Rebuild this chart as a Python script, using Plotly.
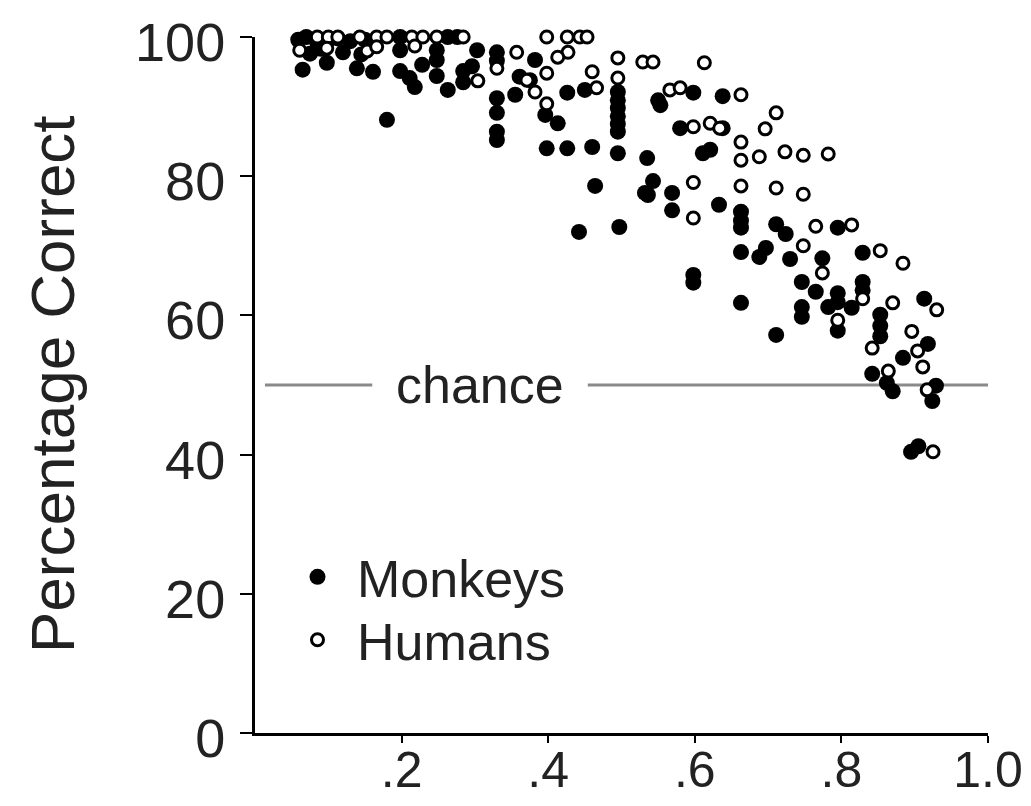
import plotly.graph_objects as go

# Monkeys (filled circles)
monkey_x = [0.059, 0.07, 0.085, 0.10, 0.113, 0.13, 0.15, 0.075, 0.09, 0.12, 0.145, 0.065, 0.098, 0.139, 0.161,
            0.18, 0.198, 0.198, 0.198, 0.211, 0.218, 0.228, 0.248, 0.248, 0.248, 0.263, 0.276, 0.263, 0.284, 0.284,
            0.296, 0.303, 0.33, 0.33, 0.33, 0.33, 0.33, 0.33, 0.361, 0.355, 0.375, 0.382, 0.396, 0.413, 0.398,
            0.426, 0.426, 0.45, 0.46, 0.442, 0.464, 0.495, 0.495, 0.495, 0.495, 0.495, 0.495, 0.495, 0.497, 0.535,
            0.532, 0.536, 0.543, 0.55, 0.553, 0.569, 0.569, 0.58, 0.598, 0.598, 0.598, 0.611, 0.621, 0.633, 0.638,
            0.638, 0.663, 0.663, 0.663, 0.663, 0.663, 0.688, 0.697, 0.711, 0.724, 0.711, 0.730, 0.746, 0.746, 0.746,
            0.765, 0.774, 0.782, 0.795, 0.795, 0.795, 0.795, 0.814, 0.829, 0.829, 0.829, 0.853, 0.853, 0.853, 0.842,
            0.862, 0.870, 0.884, 0.913, 0.918, 0.929, 0.924, 0.895, 0.905]
monkey_y = [99.6, 100, 99.2, 99.6, 99.8, 99.4, 99.6, 97.6, 98.3, 97.8, 97.5, 95.3, 96.3, 95.5, 95.0,
            88.1, 100, 98.1, 95.1, 94.1, 92.8, 96.0, 98.1, 96.7, 94.4, 100, 100, 92.4, 95.1, 93.5,
            95.8, 98.1, 97.8, 96.6, 91.2, 89.1, 86.4, 85.2, 94.3, 91.7, 93.8, 96.7, 88.8, 87.6, 84.0,
            92.0, 84.0, 92.4, 84.2, 72.0, 78.6, 92.1, 90.9, 89.8, 88.6, 87.5, 86.4, 83.3, 72.7, 82.6,
            77.6, 77.3, 79.3, 90.9, 90.2, 77.6, 75.1, 86.9, 92.0, 65.8, 64.7, 83.3, 83.8, 75.9, 91.5,
            86.9, 74.9, 73.6, 72.6, 69.1, 61.8, 68.4, 69.7, 73.1, 71.7, 57.2, 68.1, 64.8, 61.2, 59.8,
            63.4, 68.2, 61.2, 72.6, 63.2, 61.9, 57.8, 61.1, 69.0, 64.8, 63.6, 60.1, 58.5, 57.0, 51.6,
            50.3, 49.1, 53.9, 62.4, 55.9, 49.9, 47.7, 40.4, 41.2]

# Humans (open circles)
human_x = [0.085, 0.100, 0.113, 0.143, 0.166, 0.18, 0.214, 0.229, 0.248, 0.284, 0.398, 0.426, 0.443, 0.453,
           0.061, 0.098, 0.153, 0.166, 0.218, 0.304, 0.33, 0.357, 0.427, 0.413, 0.398, 0.371, 0.382, 0.398,
           0.466, 0.46, 0.495, 0.495, 0.529, 0.543, 0.613, 0.566, 0.58, 0.598, 0.621, 0.634, 0.598, 0.598,
           0.663, 0.711, 0.696, 0.663, 0.663, 0.688, 0.723, 0.748, 0.782, 0.663, 0.711, 0.748, 0.765, 0.814,
           0.748, 0.774, 0.853, 0.884, 0.829, 0.795, 0.870, 0.930, 0.896, 0.842, 0.904, 0.911, 0.864, 0.917,
           0.925]
human_y = [100, 100, 100, 100, 100, 100, 100, 100, 100, 100, 100, 100, 100, 100,
           98.1, 98.4, 98.0, 98.6, 98.7, 93.7, 95.5, 97.8, 97.8, 97.1, 94.8, 93.8, 92.1, 90.4,
           92.7, 95.0, 97.0, 94.1, 96.4, 96.4, 96.3, 92.4, 92.7, 87.1, 87.6, 86.9, 79.1, 74.0,
           91.7, 89.1, 86.8, 84.9, 82.3, 82.8, 83.5, 83.0, 83.2, 78.6, 78.3, 77.4, 72.8, 73.0,
           70.0, 66.1, 69.3, 67.5, 62.4, 59.3, 61.8, 60.8, 57.7, 55.3, 54.9, 52.6, 52.0, 49.3,
           40.4]

x_tickvals = [0.2, 0.4, 0.6, 0.8, 1.0]
x_ticktext = [".2", ".4", ".6", ".8", "1.0"]
y_tickvals = [0, 20, 40, 60, 80, 100]
chance_level = 50

FONT = "Liberation Sans, Arial, Helvetica, sans-serif"

# page body adds an 8px offset; figure-coordinates below account for it
OFF = 8
W, H = 1023, 798
L, T = 255 - OFF, 37 - OFF
plot_w, plot_h = 733, 696
R = W - L - plot_w
B = H - T - plot_h


def px_to_paper_x(px):
    return (px - OFF - L) / plot_w


def px_to_paper_y(py):
    return (T + plot_h - (py - OFF)) / plot_h


fig = go.Figure()
fig.add_trace(go.Scatter(
    x=monkey_x, y=monkey_y, mode="markers", name="Monkeys", legend="legend",
    marker=dict(symbol="circle", size=16, color="black", line=dict(width=0)),
    cliponaxis=False))
fig.add_trace(go.Scatter(
    x=human_x, y=human_y, mode="markers", name="Humans", legend="legend2",
    marker=dict(symbol="circle", size=12, color="white", line=dict(width=3, color="black")),
    cliponaxis=False))

# chance line (two segments with the label between)
for x0, x1 in [(0.0136, 0.16), (0.454, 1.016)]:
    fig.add_shape(type="line", x0=x0, x1=x1, y0=chance_level, y1=chance_level,
                  xref="x", yref="y", line=dict(color="#8a8a8a", width=3), layer="below")
fig.add_annotation(x=0.307, y=chance_level, text="chance", showarrow=False,
                   xanchor="center", yanchor="middle",
                   font=dict(family=FONT, size=52, color="#222"), xref="x", yref="y")

fig.add_annotation(x=px_to_paper_x(52), y=px_to_paper_y(384), xref="paper", yref="paper",
                   xanchor="center", yanchor="middle",
                   text="Percentage Correct", textangle=-90, showarrow=False,
                   font=dict(family=FONT, size=62, color="#222"))

leg_common = dict(xanchor="left", yanchor="middle",
                  font=dict(family=FONT, size=52, color="#222"),
                  bgcolor="rgba(0,0,0,0)", itemsizing="trace", itemwidth=69)

fig.update_layout(
    width=W, height=H,
    margin=dict(l=L, r=R, t=T, b=B, autoexpand=False),
    paper_bgcolor="white", plot_bgcolor="white",
    font=dict(family=FONT, color="#222"),
    showlegend=True,
    legend=dict(x=px_to_paper_x(278), y=px_to_paper_y(577), **leg_common),
    legend2=dict(x=px_to_paper_x(278), y=px_to_paper_y(640), **leg_common),
    xaxis=dict(range=[0, 1.0], showgrid=False, zeroline=False, automargin=False,
               showline=True, linecolor="black", linewidth=3,
               ticks="outside", ticklen=7, tickwidth=1.5, tickcolor="black",
               tickvals=x_tickvals, ticktext=x_ticktext, ticklabelstandoff=-16,
               ticklabeloverflow="allow",
               tickfont=dict(family=FONT, size=50, color="#222")),
    yaxis=dict(range=[0, 100], showgrid=False, zeroline=False, automargin=False,
               showline=True, linecolor="black", linewidth=3,
               ticks="outside", ticklen=12, tickwidth=1.5, tickcolor="black",
               tickvals=y_tickvals, ticklabelstandoff=4, ticklabelshift=5,
               ticklabeloverflow="allow",
               tickfont=dict(family=FONT, size=54, color="#222")),
)

fig.write_html("out.html")
